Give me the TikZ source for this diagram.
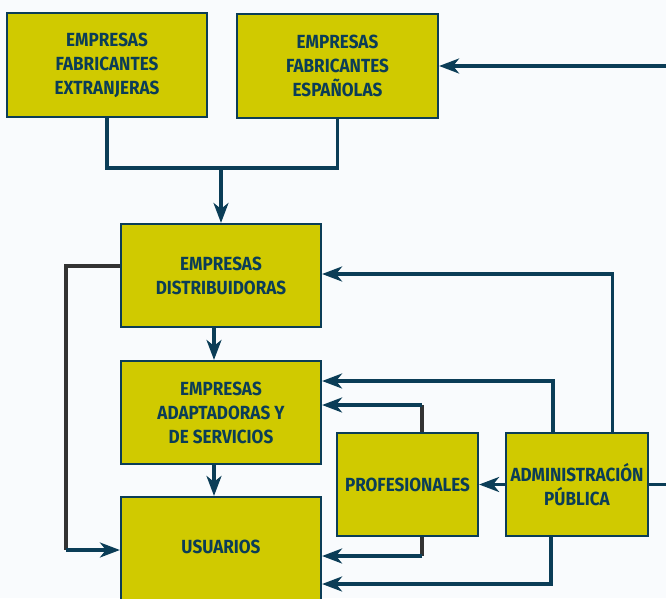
\documentclass[tikz,border=0pt]{standalone}
\usepackage{fontspec}
\setmainfont{Fira Sans}[FakeStretch=0.9]
\usetikzlibrary{arrows.meta}

\definecolor{boxYellow}{HTML}{D0CA00}
\definecolor{lineTeal}{HTML}{0B3D57}
\definecolor{lineDark}{HTML}{333333}
\definecolor{bgWhite}{HTML}{F9FBFD}

\begin{document}
\begin{tikzpicture}[
    x=1pt, y=-1pt,
    box_style/.style={draw=lineTeal, line width=2.2pt, fill=boxYellow, text=lineTeal,
        font=\bfseries\fontsize{19}{24}\selectfont, align=center, inner sep=0pt},
    link_style/.style={draw=lineTeal, line width=3.2pt},
    dark_style/.style={draw=lineDark, line width=3.2pt},
    arrow_style/.style={link_style, -{Stealth[length=20pt, width=15pt, inset=6pt]}}
]

    % --- fondo ---
    \fill[bgWhite] (0,0) rectangle (666,598);
    \useasboundingbox (0,0) rectangle (666,598);

    % --- cajas ---
    \node[box_style, minimum width=200pt, minimum height=104pt] (ext) at (107,65) {EMPRESAS\\FABRICANTES\\EXTRANJERAS};
    \node[box_style, minimum width=201pt, minimum height=104pt] (esp) at (337.5,66) {EMPRESAS\\FABRICANTES\\ESPAÑOLAS};
    \node[box_style, minimum width=200pt, minimum height=103pt] (dist) at (221,275.5) {EMPRESAS\\DISTRIBUIDORAS};
    \node[box_style, minimum width=200pt, minimum height=103pt] (adapt) at (221,412.5) {EMPRESAS\\ADAPTADORAS Y\\DE SERVICIOS};
    \node[box_style, minimum width=200pt, minimum height=126pt] (usu) at (221,560) {USUARIOS\\[2pt]};
    \node[box_style, minimum width=141pt, minimum height=103pt] (prof) at (407.5,484.5) {PROFESIONALES};
    \node[box_style, minimum width=142pt, minimum height=103pt] (admin) at (577,484.5) {ADMINISTRACIÓN\\PÚBLICA};

    % --- puntos de quiebre ---
    \coordinate (join) at (221,168);
    \coordinate (lftbend) at (66,550);
    \coordinate (proftop) at (422,405);
    \coordinate (profbot) at (422,556);
    \coordinate (admA) at (553,381);
    \coordinate (admB) at (612.5,274);
    \coordinate (admC) at (551,584);
    \coordinate (topin) at (666,66);
    \coordinate (rgtout) at (666,484.5);

    % --- fabricantes hacia distribuidoras ---
    \draw[link_style] (ext.south) |- (join) -| (esp.south);
    \draw[arrow_style] (join) -- (dist.north);
    \draw[arrow_style] (topin) -- (esp.east);

    % --- cadena central ---
    \draw[arrow_style] ([xshift=-7pt]dist.south) -- ([xshift=-7pt]adapt.north);
    \draw[arrow_style] ([xshift=-7pt]adapt.south) -- ([xshift=-7pt]usu.north);

    % --- rama izquierda ---
    \draw[dark_style] ([yshift=9.5pt]dist.west) -| (lftbend);
    \draw[arrow_style] (lftbend) -- (lftbend -| usu.west);

    % --- profesionales ---
    \draw[dark_style] (proftop |- prof.north) -- (proftop);
    \draw[arrow_style] (proftop) -- (proftop -| adapt.east);
    \draw[dark_style] (profbot |- prof.south) -- (profbot);
    \draw[arrow_style] (profbot) -- (profbot -| usu.east);

    % --- administración pública ---
    \draw[arrow_style] (admB |- admin.north) -- (admB) -- (admB -| dist.east);
    \draw[arrow_style] (admA |- admin.north) -- (admA) -- (admA -| adapt.east);
    \draw[arrow_style] (admC |- admin.south) -- (admC) -- (admC -| usu.east);
    \draw[arrow_style] (admin.west) -- (prof.east);
    \draw[link_style] (admin.east) -- (rgtout);

\end{tikzpicture}
\end{document}
